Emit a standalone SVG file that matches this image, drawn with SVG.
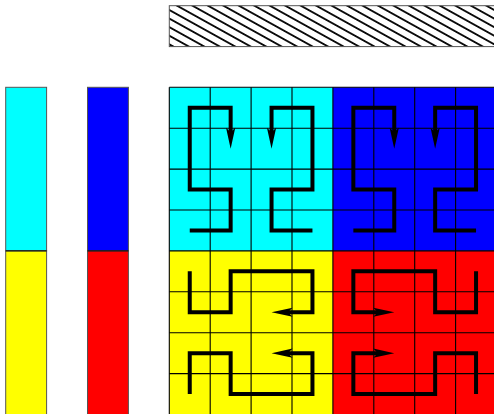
<svg xmlns="http://www.w3.org/2000/svg" width="494" height="414" viewBox="0 0 494 414">
<style>
.bar{stroke:#555;stroke-width:1}
.grid{stroke:#000;stroke-width:1.1;fill:none}
.curve{fill:none;stroke:#000;stroke-width:4;stroke-linejoin:miter;stroke-linecap:butt;marker-end:url(#arr)}
</style>
<defs>
<pattern id="hatch" patternUnits="userSpaceOnUse" width="10" height="7.5" patternTransform="translate(169.3,5.7) rotate(29)">
<line x1="-1" y1="3.75" x2="11" y2="3.75" stroke="#000" stroke-width="1.8"/>
</pattern>
<marker id="arr" markerUnits="userSpaceOnUse" orient="auto" overflow="visible" refX="0" refY="0" markerWidth="30" markerHeight="30">
<path d="M14,0 L-7,-4.6 L-2.5,0 L-7,4.6 Z" fill="#000"/>
</marker>
</defs>
<rect id="hatched" x="169.3" y="5.7" width="340" height="40.9" fill="url(#hatch)" stroke="#555" stroke-width="1"/>
<g id="bar-left">
<rect class="bar" x="5.7" y="87.3" width="40.9" height="163.6" fill="#00ffff"/>
<rect class="bar" x="5.7" y="250.9" width="40.9" height="170" fill="#ffff00"/>
<line x1="5.7" y1="250.9" x2="46.6" y2="250.9" stroke="#000" stroke-width="1"/>
</g>
<g id="bar-right">
<rect class="bar" x="87.5" y="87.3" width="40.9" height="163.6" fill="#0000ff"/>
<rect class="bar" x="87.5" y="250.9" width="40.9" height="170" fill="#ff0000"/>
<line x1="87.5" y1="250.9" x2="128.4" y2="250.9" stroke="#000" stroke-width="1"/>
</g>
<g id="quadrants">
<rect id="q-cyan" x="169.3" y="87.3" width="163.6" height="163.6" fill="#00ffff"/>
<rect id="q-blue" x="332.9" y="87.3" width="170" height="163.6" fill="#0000ff"/>
<rect id="q-yellow" x="169.3" y="250.9" width="163.6" height="170" fill="#ffff00"/>
<rect id="q-red" x="332.9" y="250.9" width="170" height="170" fill="#ff0000"/>
</g>
<g id="grid" class="grid">
<path d="M169.3,87.3V420 M210.2,87.3V420 M251.1,87.3V420 M292,87.3V420 M332.9,87.3V420 M373.8,87.3V420 M414.7,87.3V420 M455.6,87.3V420"/>
<path d="M169.3,87.3H500 M169.3,128.2H500 M169.3,169.1H500 M169.3,210H500 M169.3,250.9H500 M169.3,291.8H500 M169.3,332.7H500 M169.3,373.6H500"/>
</g>
<g id="connectors">
<path class="curve" d="M189.75,230.45H230.65V189.55H189.75V107.75H230.65V134.65"/>
<path class="curve" d="M312.45,230.45H271.55V189.55H312.45V107.75H271.55V134.65"/>
<path class="curve" d="M353.35,230.45H394.25V189.55H353.35V107.75H394.25V134.65"/>
<path class="curve" d="M476.05,230.45H435.15V189.55H476.05V107.75H435.15V134.65"/>
<path class="curve" d="M189.75,271.35V312.25H230.65V271.35H312.45V312.25H285.55"/>
<path class="curve" d="M189.75,394.05V353.15H230.65V394.05H312.45V353.15H285.55"/>
<path class="curve" d="M476.05,271.35V312.25H435.15V271.35H353.35V312.25H380.25"/>
<path class="curve" d="M476.05,394.05V353.15H435.15V394.05H353.35V353.15H380.25"/>
</g>
</svg>
